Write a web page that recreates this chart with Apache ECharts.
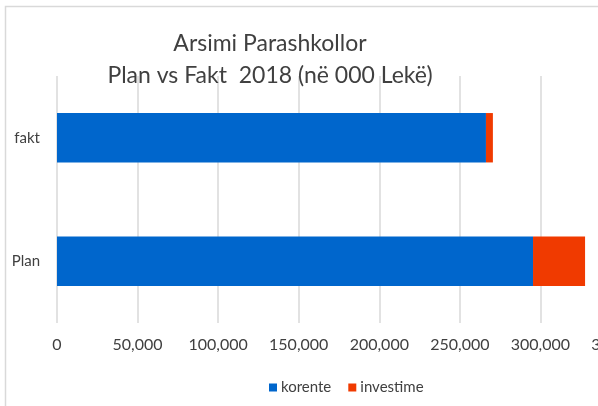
<!DOCTYPE html>
<html>
<head>
<meta charset="utf-8">
<script src="https://cdn.jsdelivr.net/npm/echarts@6/dist/echarts.min.js"></script>
<style>
  html, body { margin: 0; padding: 0; background: #fff; }
  #chart { width: 598px; height: 406px; }
</style>
</head>
<body>
<div id="chart"></div>
<script>
// kategorite (poshte -> lart)
const categories = ['Plan', 'fakt'];
const seriesNames = ['korente', 'investime'];
const korente = [295400, 266200];
const investime = [32300, 4300];
const xTicks = { min: 0, max: 350000, interval: 50000 };

const chart = echarts.init(document.getElementById('chart'));

const font = 'Lato, "Open Sans", sans-serif';

const option = {
  animation: false,
  title: {
    text: 'Arsimi Parashkollor\nPlan vs Fakt  2018 (në 000 Lekë)',
    left: 270,
    top: 28,
    textAlign: 'center',
    padding: 0,
    textStyle: {
      fontFamily: font,
      fontSize: 23,
      fontWeight: 'normal',
      color: '#404040',
      lineHeight: 32
    }
  },
  legend: {
    data: seriesNames,
    left: 264,
    top: 375,
    icon: 'rect',
    itemWidth: 8,
    itemHeight: 8,
    itemGap: 17,
    textStyle: { fontFamily: font, fontSize: 15, color: '#404040', padding: [0, 0, 0, -1] }
  },
  grid: {
    left: 57,
    top: 76,
    width: 564,
    bottom: 83,
    containLabel: false,
    outerBoundsMode: 'none'
  },
  xAxis: {
    type: 'value',
    min: xTicks.min,
    max: xTicks.max,
    interval: xTicks.interval,
    axisLine: { show: false },
    axisTick: { show: false },
    splitLine: { lineStyle: { color: '#d9d9d9', width: 1.5 } },
    axisLabel: {
      margin: 14,
      fontFamily: font,
      fontSize: 16,
      color: '#404040',
      formatter: v => v.toLocaleString('en-US')
    }
  },
  yAxis: {
    type: 'category',
    data: categories,
    axisLine: { show: false },
    axisTick: { show: false },
    axisLabel: {
      margin: 17,
      fontFamily: font,
      fontSize: 15,
      color: '#404040'
    }
  },
  graphic: [{
    type: 'rect',
    shape: { x: 5.5, y: 6.5, width: 800, height: 600 },
    style: { fill: 'none', stroke: '#d9d9d9', lineWidth: 1.5 },
    silent: true
  }],
  series: [
    {
      name: seriesNames[0],
      type: 'bar',
      stack: 'total',
      barWidth: '40%',
      data: korente,
      itemStyle: { color: '#0066cc' }
    },
    {
      name: seriesNames[1],
      type: 'bar',
      stack: 'total',
      barWidth: '40%',
      data: investime,
      itemStyle: { color: '#f03a00' }
    }
  ]
};

chart.setOption(option);
</script>
</body>
</html>
